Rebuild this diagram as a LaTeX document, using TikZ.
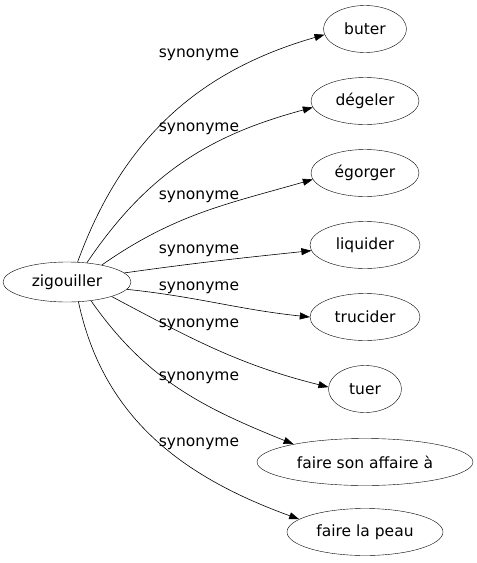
\documentclass[tikz,border=0pt]{standalone}
\usepackage{fontspec}
\setmainfont{DejaVu Sans}
\usetikzlibrary{arrows.meta,shapes.geometric}

\tikzset{
  mot/.style={draw, ellipse, inner sep=0pt, minimum height=47pt, font=\fontsize{15.5}{18}\selectfont},
  syn/.style={-{Triangle[length=10pt,width=7pt]}, line width=0.6pt},
  lbl/.style={font=\fontsize{15.5}{18}\selectfont, inner sep=0pt},
}

\begin{document}
\begin{tikzpicture}[x=1pt,y=1pt]
	% fond
	\useasboundingbox (0,0) rectangle (477,-563);
	
	% mot de départ
	\node[mot, minimum width=128pt, minimum height=40pt] (zig) at (67,-282) {zigouiller};
	
	% synonymes
	\node[mot, minimum width=83pt] (buter) at (365,-29) {buter};
	\node[mot, minimum width=108pt] (degeler) at (365,-101) {dégeler};
	\node[mot, minimum width=108pt] (egorger) at (365,-173) {égorger};
	\node[mot, minimum width=110pt] (liquider) at (365,-245) {liquider};
	\node[mot, minimum width=110pt] (trucider) at (365,-317) {trucider};
	\node[mot, minimum width=73pt] (tuer) at (365,-389) {tuer};
	\node[mot, minimum width=216pt] (affaire) at (365,-462) {faire son affaire à};
	\node[mot, minimum width=156pt] (peau) at (365,-532) {faire la peau};
	
	% liens
	\draw[syn] (zig.62) to[out=70, in=196] (buter.188);
	\draw[syn] (zig.44) to[out=56, in=195] (degeler.187);
	\draw[syn] (zig.26) to[out=35, in=196] (egorger.187);
	\draw[syn] (zig.9) to[out=8, in=186] (liquider.186);
	\draw[syn] (zig.-7) to[out=-6, in=174] (trucider.180);
	\draw[syn] (zig.-18) to[out=-28, in=166] (tuer.177);
	\draw[syn] (zig.-38) to[out=-55, in=158] (affaire.166);
	\draw[syn] (zig.-60) to[out=-78, in=160] (peau.169);
	
	% étiquettes
	\node[lbl] (l1) at (199,-55) {synonyme};
	\node[lbl] (l2) at (199,-129) {synonyme};
	\node[lbl] (l3) at (199,-197) {synonyme};
	\node[lbl] (l4) at (199,-251) {synonyme};
	\node[lbl] (l5) at (199,-288) {synonyme};
	\node[lbl] (l6) at (199,-325) {synonyme};
	\node[lbl] (l7) at (199,-378) {synonyme};
	\node[lbl] (l8) at (199,-444) {synonyme};
\end{tikzpicture}
\end{document}
